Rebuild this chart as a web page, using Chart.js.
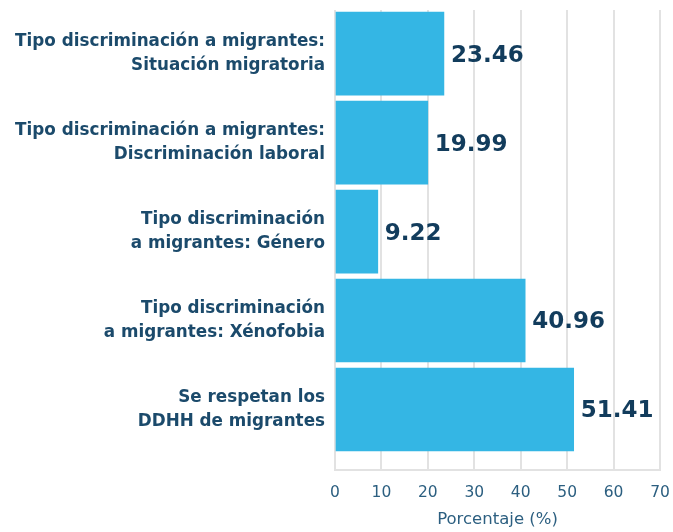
<!DOCTYPE html>
<html>
<head>
<meta charset="utf-8">
<script src="https://cdn.jsdelivr.net/npm/chart.js@4"></script>
<style>
  body { margin: 0; background: #fff; }
  #wrap { width: 673px; height: 532px; }
</style>
</head>
<body>
<div id="wrap"><canvas id="chart"></canvas></div>
<script>
// categories (multi-line labels), values and x tick range
const categories = [
    ["Tipo discriminación a migrantes:", "Situación migratoria"],
    ["Tipo discriminación a migrantes:", "Discriminación laboral"],
    ["Tipo discriminación", "a migrantes: Género"],
    ["Tipo discriminación", "a migrantes: Xénofobia"],
    ["Se respetan los", "DDHH de migrantes"]
];
const values = [23.46, 19.99, 9.22, 40.96, 51.41];
const xTicks = [0, 10, 20, 30, 40, 50, 60, 70];
const axisTitle = "Porcentaje (%)";

const navy = "#1b4a6b";

// value labels at the end of each bar
const valueLabels = {
    id: "valueLabels",
    afterDatasetsDraw(chart) {
        const ctx = chart.ctx;
        const meta = chart.getDatasetMeta(0);
        ctx.save();
        ctx.font = "bold 23px 'DejaVu Sans'";
        ctx.fillStyle = "#123c5c";
        ctx.textAlign = "left";
        ctx.textBaseline = "middle";
        meta.data.forEach((bar, i) => {
            ctx.fillText(values[i].toFixed(2), bar.x + 7, bar.y + 2);
        });
        ctx.restore();
    }
};

new Chart(document.getElementById("chart"), {
    type: "bar",
    data: {
        datasets: [{
            data: values.map((v, i) => ({ x: v, y: i })),
            backgroundColor: "#34b6e4",
            barThickness: 83
        }]
    },
    options: {
        indexAxis: "y",
        responsive: true,
        maintainAspectRatio: false,
        animation: false,
        layout: { padding: { top: 10, right: 13, bottom: 1, left: 0 } },
        plugins: {
            legend: { display: false },
            tooltip: { enabled: false }
        },
        scales: {
            x: {
                min: xTicks[0],
                max: xTicks[xTicks.length - 1],
                afterFit(scale) {
                    scale.paddingLeft = 0;
                    scale.paddingRight = 0;
                    scale.height = 61;
                },
                ticks: {
                    stepSize: 10,
                    color: "#2c5f80",
                    font: { family: "DejaVu Sans", size: 15.5 },
                    padding: 14
                },
                grid: { color: "#e2e2e2", lineWidth: 2, drawTicks: false },
                border: { display: true, color: "#e2e2e2", width: 2 },
                title: {
                    display: true,
                    text: axisTitle,
                    color: "#2c5f80",
                    font: { family: "DejaVu Sans", size: 16.5 },
                    padding: { top: 0, bottom: 1 }
                }
            },
            y: {
                type: "linear",
                reverse: true,
                offset: false,
                min: -0.49,
                max: 4.68,
                afterBuildTicks(scale) {
                    scale.ticks = categories.map((c, i) => ({ value: i }));
                },
                afterFit(scale) {
                    scale.width = 335;
                    scale.paddingTop = 0;
                    scale.paddingBottom = 0;
                },
                ticks: {
                    callback: (v) => categories[v],
                    color: navy,
                    font: { family: "DejaVu Sans", size: 16.8, weight: "bold", lineHeight: 1.42 },
                    padding: 10
                },
                grid: { display: false, drawTicks: false },
                border: { display: false }
            }
        }
    },
    plugins: [valueLabels]
});
</script>
</body>
</html>
